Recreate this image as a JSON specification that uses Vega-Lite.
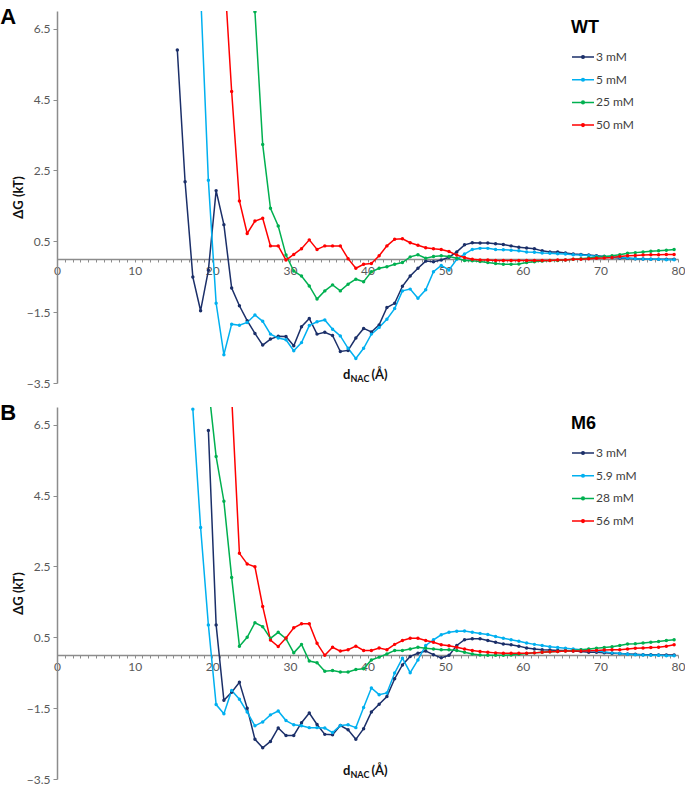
{
  "$schema": "https://vega.github.io/schema/vega-lite/v6.json",
  "padding": {"left": 0, "top": 5, "right": 0, "bottom": 0},
  "spacing": 12,
  "config": {
    "view": {"stroke": null},
    "font": "Lato",
    "axis": {"grid": false, "domainColor": "#8c8c8c", "domainWidth": 1.5, "tickColor": "#8c8c8c", "tickWidth": 1, "labelColor": "#595959", "labelFont": "Lato", "labelFontSize": 12},
    "legend": {"orient": "none", "legendX": 514, "legendY": 8, "titleFontSize": 18, "titleFont": "Liberation Sans", "titleFontWeight": "bold", "titleColor": "#000000", "titlePadding": 8, "labelFont": "Lato", "labelFontSize": 12, "labelColor": "#404040", "symbolType": "M-1,0H1M-0.12,0A0.12,0.12,0,1,0,0.12,0A0.12,0.12,0,1,0,-0.12,0", "symbolSize": 484, "symbolStrokeWidth": 1.5, "rowPadding": 4.7, "labelOffset": 1, "padding": 0},
    "title": {"anchor": "start", "frame": "bounds", "font": "Liberation Sans", "fontSize": 22, "fontWeight": "bold", "color": "#000000", "offset": -17.5, "dx": -12}
  },
  "datasets": {
    "A": [
      {"conc":"3 mM","d":15.5,"dG":5.90},{"conc":"3 mM","d":16.5,"dG":2.18},{"conc":"3 mM","d":17.5,"dG":-0.51},{"conc":"3 mM","d":18.5,"dG":-1.46},{"conc":"3 mM","d":19.5,"dG":-0.32},{"conc":"3 mM","d":20.5,"dG":1.93},{"conc":"3 mM","d":21.5,"dG":0.97},{"conc":"3 mM","d":22.5,"dG":-0.82},{"conc":"3 mM","d":23.5,"dG":-1.32},{"conc":"3 mM","d":24.5,"dG":-1.74},{"conc":"3 mM","d":25.5,"dG":-2.10},{"conc":"3 mM","d":26.5,"dG":-2.43},{"conc":"3 mM","d":27.5,"dG":-2.26},{"conc":"3 mM","d":28.5,"dG":-2.18},{"conc":"3 mM","d":29.5,"dG":-2.19},{"conc":"3 mM","d":30.5,"dG":-2.45},{"conc":"3 mM","d":31.5,"dG":-1.91},{"conc":"3 mM","d":32.5,"dG":-1.68},{"conc":"3 mM","d":33.5,"dG":-2.12},{"conc":"3 mM","d":34.5,"dG":-2.07},{"conc":"3 mM","d":35.5,"dG":-2.16},{"conc":"3 mM","d":36.5,"dG":-2.61},{"conc":"3 mM","d":37.5,"dG":-2.58},{"conc":"3 mM","d":38.5,"dG":-2.23},{"conc":"3 mM","d":39.5,"dG":-1.96},{"conc":"3 mM","d":40.5,"dG":-2.06},{"conc":"3 mM","d":41.5,"dG":-1.86},{"conc":"3 mM","d":42.5,"dG":-1.37},{"conc":"3 mM","d":43.5,"dG":-1.25},{"conc":"3 mM","d":44.5,"dG":-0.77},{"conc":"3 mM","d":45.5,"dG":-0.48},{"conc":"3 mM","d":46.5,"dG":-0.26},{"conc":"3 mM","d":47.5,"dG":-0.06},{"conc":"3 mM","d":48.5,"dG":-0.08},{"conc":"3 mM","d":49.5,"dG":-0.03},{"conc":"3 mM","d":50.5,"dG":0.05},{"conc":"3 mM","d":51.5,"dG":0.20},{"conc":"3 mM","d":52.5,"dG":0.40},{"conc":"3 mM","d":53.5,"dG":0.46},{"conc":"3 mM","d":54.5,"dG":0.45},{"conc":"3 mM","d":55.5,"dG":0.45},{"conc":"3 mM","d":56.5,"dG":0.43},{"conc":"3 mM","d":57.5,"dG":0.41},{"conc":"3 mM","d":58.5,"dG":0.37},{"conc":"3 mM","d":59.5,"dG":0.33},{"conc":"3 mM","d":60.5,"dG":0.31},{"conc":"3 mM","d":61.5,"dG":0.29},{"conc":"3 mM","d":62.5,"dG":0.23},{"conc":"3 mM","d":63.5,"dG":0.20},{"conc":"3 mM","d":64.5,"dG":0.20},{"conc":"3 mM","d":65.5,"dG":0.17},{"conc":"3 mM","d":66.5,"dG":0.14},{"conc":"3 mM","d":67.5,"dG":0.13},{"conc":"3 mM","d":68.5,"dG":0.11},{"conc":"3 mM","d":69.5,"dG":0.09},{"conc":"3 mM","d":70.5,"dG":0.07},{"conc":"3 mM","d":71.5,"dG":0.04},{"conc":"3 mM","d":72.5,"dG":0.03},{"conc":"3 mM","d":73.5,"dG":0.02},{"conc":"3 mM","d":74.5,"dG":0.01},{"conc":"3 mM","d":75.5,"dG":0.0},{"conc":"3 mM","d":76.5,"dG":-0.01},{"conc":"3 mM","d":77.5,"dG":-0.01},{"conc":"3 mM","d":78.5,"dG":-0.01},{"conc":"3 mM","d":79.5,"dG":-0.01},
      {"conc":"5 mM","d":18.5,"dG":7.53},{"conc":"5 mM","d":19.5,"dG":2.22},{"conc":"5 mM","d":20.5,"dG":-1.25},{"conc":"5 mM","d":21.5,"dG":-2.70},{"conc":"5 mM","d":22.5,"dG":-1.84},{"conc":"5 mM","d":23.5,"dG":-1.87},{"conc":"5 mM","d":24.5,"dG":-1.79},{"conc":"5 mM","d":25.5,"dG":-1.58},{"conc":"5 mM","d":26.5,"dG":-1.76},{"conc":"5 mM","d":27.5,"dG":-2.12},{"conc":"5 mM","d":28.5,"dG":-2.23},{"conc":"5 mM","d":29.5,"dG":-2.28},{"conc":"5 mM","d":30.5,"dG":-2.59},{"conc":"5 mM","d":31.5,"dG":-2.36},{"conc":"5 mM","d":32.5,"dG":-1.88},{"conc":"5 mM","d":33.5,"dG":-1.77},{"conc":"5 mM","d":34.5,"dG":-1.72},{"conc":"5 mM","d":35.5,"dG":-1.98},{"conc":"5 mM","d":36.5,"dG":-2.17},{"conc":"5 mM","d":37.5,"dG":-2.52},{"conc":"5 mM","d":38.5,"dG":-2.81},{"conc":"5 mM","d":39.5,"dG":-2.52},{"conc":"5 mM","d":40.5,"dG":-2.12},{"conc":"5 mM","d":41.5,"dG":-1.93},{"conc":"5 mM","d":42.5,"dG":-1.70},{"conc":"5 mM","d":43.5,"dG":-1.40},{"conc":"5 mM","d":44.5,"dG":-0.90},{"conc":"5 mM","d":45.5,"dG":-0.85},{"conc":"5 mM","d":46.5,"dG":-1.11},{"conc":"5 mM","d":47.5,"dG":-0.87},{"conc":"5 mM","d":48.5,"dG":-0.36},{"conc":"5 mM","d":49.5,"dG":-0.18},{"conc":"5 mM","d":50.5,"dG":-0.31},{"conc":"5 mM","d":51.5,"dG":-0.01},{"conc":"5 mM","d":52.5,"dG":0.14},{"conc":"5 mM","d":53.5,"dG":0.27},{"conc":"5 mM","d":54.5,"dG":0.30},{"conc":"5 mM","d":55.5,"dG":0.30},{"conc":"5 mM","d":56.5,"dG":0.27},{"conc":"5 mM","d":57.5,"dG":0.26},{"conc":"5 mM","d":58.5,"dG":0.25},{"conc":"5 mM","d":59.5,"dG":0.23},{"conc":"5 mM","d":60.5,"dG":0.20},{"conc":"5 mM","d":61.5,"dG":0.19},{"conc":"5 mM","d":62.5,"dG":0.17},{"conc":"5 mM","d":63.5,"dG":0.16},{"conc":"5 mM","d":64.5,"dG":0.15},{"conc":"5 mM","d":65.5,"dG":0.14},{"conc":"5 mM","d":66.5,"dG":0.12},{"conc":"5 mM","d":67.5,"dG":0.11},{"conc":"5 mM","d":68.5,"dG":0.10},{"conc":"5 mM","d":69.5,"dG":0.08},{"conc":"5 mM","d":70.5,"dG":0.07},{"conc":"5 mM","d":71.5,"dG":0.06},{"conc":"5 mM","d":72.5,"dG":0.04},{"conc":"5 mM","d":73.5,"dG":0.03},{"conc":"5 mM","d":74.5,"dG":0.01},{"conc":"5 mM","d":75.5,"dG":0.0},{"conc":"5 mM","d":76.5,"dG":-0.01},{"conc":"5 mM","d":77.5,"dG":-0.01},{"conc":"5 mM","d":78.5,"dG":-0.02},{"conc":"5 mM","d":79.5,"dG":-0.02},
      {"conc":"25 mM","d":25.5,"dG":6.98},{"conc":"25 mM","d":26.5,"dG":3.23},{"conc":"25 mM","d":27.5,"dG":1.43},{"conc":"25 mM","d":28.5,"dG":0.93},{"conc":"25 mM","d":29.5,"dG":0.11},{"conc":"25 mM","d":30.5,"dG":-0.34},{"conc":"25 mM","d":31.5,"dG":-0.48},{"conc":"25 mM","d":32.5,"dG":-0.76},{"conc":"25 mM","d":33.5,"dG":-1.13},{"conc":"25 mM","d":34.5,"dG":-0.90},{"conc":"25 mM","d":35.5,"dG":-0.73},{"conc":"25 mM","d":36.5,"dG":-0.90},{"conc":"25 mM","d":37.5,"dG":-0.71},{"conc":"25 mM","d":38.5,"dG":-0.57},{"conc":"25 mM","d":39.5,"dG":-0.64},{"conc":"25 mM","d":40.5,"dG":-0.36},{"conc":"25 mM","d":41.5,"dG":-0.26},{"conc":"25 mM","d":42.5,"dG":-0.22},{"conc":"25 mM","d":43.5,"dG":-0.15},{"conc":"25 mM","d":44.5,"dG":-0.10},{"conc":"25 mM","d":45.5,"dG":0.06},{"conc":"25 mM","d":46.5,"dG":0.12},{"conc":"25 mM","d":47.5,"dG":0.02},{"conc":"25 mM","d":48.5,"dG":0.07},{"conc":"25 mM","d":49.5,"dG":0.09},{"conc":"25 mM","d":50.5,"dG":0.07},{"conc":"25 mM","d":51.5,"dG":0.02},{"conc":"25 mM","d":52.5,"dG":-0.04},{"conc":"25 mM","d":53.5,"dG":-0.05},{"conc":"25 mM","d":54.5,"dG":-0.07},{"conc":"25 mM","d":55.5,"dG":-0.10},{"conc":"25 mM","d":56.5,"dG":-0.13},{"conc":"25 mM","d":57.5,"dG":-0.15},{"conc":"25 mM","d":58.5,"dG":-0.15},{"conc":"25 mM","d":59.5,"dG":-0.14},{"conc":"25 mM","d":60.5,"dG":-0.10},{"conc":"25 mM","d":61.5,"dG":-0.08},{"conc":"25 mM","d":62.5,"dG":-0.06},{"conc":"25 mM","d":63.5,"dG":-0.04},{"conc":"25 mM","d":64.5,"dG":-0.04},{"conc":"25 mM","d":65.5,"dG":-0.03},{"conc":"25 mM","d":66.5,"dG":-0.01},{"conc":"25 mM","d":67.5,"dG":0.01},{"conc":"25 mM","d":68.5,"dG":0.03},{"conc":"25 mM","d":69.5,"dG":0.05},{"conc":"25 mM","d":70.5,"dG":0.07},{"conc":"25 mM","d":71.5,"dG":0.09},{"conc":"25 mM","d":72.5,"dG":0.12},{"conc":"25 mM","d":73.5,"dG":0.16},{"conc":"25 mM","d":74.5,"dG":0.18},{"conc":"25 mM","d":75.5,"dG":0.20},{"conc":"25 mM","d":76.5,"dG":0.22},{"conc":"25 mM","d":77.5,"dG":0.23},{"conc":"25 mM","d":78.5,"dG":0.25},{"conc":"25 mM","d":79.5,"dG":0.27},
      {"conc":"50 mM","d":21.5,"dG":8.3},{"conc":"50 mM","d":22.5,"dG":4.73},{"conc":"50 mM","d":23.5,"dG":1.64},{"conc":"50 mM","d":24.5,"dG":0.72},{"conc":"50 mM","d":25.5,"dG":1.07},{"conc":"50 mM","d":26.5,"dG":1.15},{"conc":"50 mM","d":27.5,"dG":0.37},{"conc":"50 mM","d":28.5,"dG":0.37},{"conc":"50 mM","d":29.5,"dG":-0.03},{"conc":"50 mM","d":30.5,"dG":0.13},{"conc":"50 mM","d":31.5,"dG":0.29},{"conc":"50 mM","d":32.5,"dG":0.54},{"conc":"50 mM","d":33.5,"dG":0.27},{"conc":"50 mM","d":34.5,"dG":0.37},{"conc":"50 mM","d":35.5,"dG":0.37},{"conc":"50 mM","d":36.5,"dG":0.37},{"conc":"50 mM","d":37.5,"dG":0.01},{"conc":"50 mM","d":38.5,"dG":-0.26},{"conc":"50 mM","d":39.5,"dG":-0.15},{"conc":"50 mM","d":40.5,"dG":-0.13},{"conc":"50 mM","d":41.5,"dG":0.09},{"conc":"50 mM","d":42.5,"dG":0.37},{"conc":"50 mM","d":43.5,"dG":0.56},{"conc":"50 mM","d":44.5,"dG":0.57},{"conc":"50 mM","d":45.5,"dG":0.46},{"conc":"50 mM","d":46.5,"dG":0.39},{"conc":"50 mM","d":47.5,"dG":0.32},{"conc":"50 mM","d":48.5,"dG":0.29},{"conc":"50 mM","d":49.5,"dG":0.27},{"conc":"50 mM","d":50.5,"dG":0.21},{"conc":"50 mM","d":51.5,"dG":0.11},{"conc":"50 mM","d":52.5,"dG":0.04},{"conc":"50 mM","d":53.5,"dG":-0.01},{"conc":"50 mM","d":54.5,"dG":-0.03},{"conc":"50 mM","d":55.5,"dG":-0.03},{"conc":"50 mM","d":56.5,"dG":-0.04},{"conc":"50 mM","d":57.5,"dG":-0.04},{"conc":"50 mM","d":58.5,"dG":-0.04},{"conc":"50 mM","d":59.5,"dG":-0.04},{"conc":"50 mM","d":60.5,"dG":-0.04},{"conc":"50 mM","d":61.5,"dG":-0.04},{"conc":"50 mM","d":62.5,"dG":-0.04},{"conc":"50 mM","d":63.5,"dG":-0.04},{"conc":"50 mM","d":64.5,"dG":-0.03},{"conc":"50 mM","d":65.5,"dG":-0.03},{"conc":"50 mM","d":66.5,"dG":-0.01},{"conc":"50 mM","d":67.5,"dG":-0.01},{"conc":"50 mM","d":68.5,"dG":0.01},{"conc":"50 mM","d":69.5,"dG":0.02},{"conc":"50 mM","d":70.5,"dG":0.03},{"conc":"50 mM","d":71.5,"dG":0.04},{"conc":"50 mM","d":72.5,"dG":0.07},{"conc":"50 mM","d":73.5,"dG":0.09},{"conc":"50 mM","d":74.5,"dG":0.10},{"conc":"50 mM","d":75.5,"dG":0.11},{"conc":"50 mM","d":76.5,"dG":0.12},{"conc":"50 mM","d":77.5,"dG":0.12},{"conc":"50 mM","d":78.5,"dG":0.13},{"conc":"50 mM","d":79.5,"dG":0.13}
    ],
    "B": [
      {"conc":"3 mM","d":19.5,"dG":6.34},{"conc":"3 mM","d":20.5,"dG":0.85},{"conc":"3 mM","d":21.5,"dG":-1.28},{"conc":"3 mM","d":22.5,"dG":-1.05},{"conc":"3 mM","d":23.5,"dG":-0.77},{"conc":"3 mM","d":24.5,"dG":-1.50},{"conc":"3 mM","d":25.5,"dG":-2.38},{"conc":"3 mM","d":26.5,"dG":-2.62},{"conc":"3 mM","d":27.5,"dG":-2.44},{"conc":"3 mM","d":28.5,"dG":-2.06},{"conc":"3 mM","d":29.5,"dG":-2.27},{"conc":"3 mM","d":30.5,"dG":-2.27},{"conc":"3 mM","d":31.5,"dG":-1.91},{"conc":"3 mM","d":32.5,"dG":-1.64},{"conc":"3 mM","d":33.5,"dG":-1.96},{"conc":"3 mM","d":34.5,"dG":-2.24},{"conc":"3 mM","d":35.5,"dG":-2.25},{"conc":"3 mM","d":36.5,"dG":-1.99},{"conc":"3 mM","d":37.5,"dG":-2.11},{"conc":"3 mM","d":38.5,"dG":-2.38},{"conc":"3 mM","d":39.5,"dG":-2.08},{"conc":"3 mM","d":40.5,"dG":-1.61},{"conc":"3 mM","d":41.5,"dG":-1.39},{"conc":"3 mM","d":42.5,"dG":-1.17},{"conc":"3 mM","d":43.5,"dG":-0.67},{"conc":"3 mM","d":44.5,"dG":-0.28},{"conc":"3 mM","d":45.5,"dG":-0.04},{"conc":"3 mM","d":46.5,"dG":0.05},{"conc":"3 mM","d":47.5,"dG":0.11},{"conc":"3 mM","d":48.5,"dG":0.01},{"conc":"3 mM","d":49.5,"dG":-0.08},{"conc":"3 mM","d":50.5,"dG":-0.01},{"conc":"3 mM","d":51.5,"dG":0.27},{"conc":"3 mM","d":52.5,"dG":0.43},{"conc":"3 mM","d":53.5,"dG":0.46},{"conc":"3 mM","d":54.5,"dG":0.46},{"conc":"3 mM","d":55.5,"dG":0.41},{"conc":"3 mM","d":56.5,"dG":0.36},{"conc":"3 mM","d":57.5,"dG":0.31},{"conc":"3 mM","d":58.5,"dG":0.29},{"conc":"3 mM","d":59.5,"dG":0.25},{"conc":"3 mM","d":60.5,"dG":0.20},{"conc":"3 mM","d":61.5,"dG":0.17},{"conc":"3 mM","d":62.5,"dG":0.15},{"conc":"3 mM","d":63.5,"dG":0.14},{"conc":"3 mM","d":64.5,"dG":0.13},{"conc":"3 mM","d":65.5,"dG":0.13},{"conc":"3 mM","d":66.5,"dG":0.11},{"conc":"3 mM","d":67.5,"dG":0.10},{"conc":"3 mM","d":68.5,"dG":0.08},{"conc":"3 mM","d":69.5,"dG":0.08},{"conc":"3 mM","d":70.5,"dG":0.06},{"conc":"3 mM","d":71.5,"dG":0.05},{"conc":"3 mM","d":72.5,"dG":0.04},{"conc":"3 mM","d":73.5,"dG":0.03},{"conc":"3 mM","d":74.5,"dG":0.02},{"conc":"3 mM","d":75.5,"dG":0.01},{"conc":"3 mM","d":76.5,"dG":0.01},{"conc":"3 mM","d":77.5,"dG":0.0},{"conc":"3 mM","d":78.5,"dG":0.0},{"conc":"3 mM","d":79.5,"dG":0.0},
      {"conc":"5.9 mM","d":17.5,"dG":6.94},{"conc":"5.9 mM","d":18.5,"dG":3.60},{"conc":"5.9 mM","d":19.5,"dG":0.85},{"conc":"5.9 mM","d":20.5,"dG":-1.40},{"conc":"5.9 mM","d":21.5,"dG":-1.66},{"conc":"5.9 mM","d":22.5,"dG":-1.00},{"conc":"5.9 mM","d":23.5,"dG":-1.25},{"conc":"5.9 mM","d":24.5,"dG":-1.61},{"conc":"5.9 mM","d":25.5,"dG":-2.00},{"conc":"5.9 mM","d":26.5,"dG":-1.89},{"conc":"5.9 mM","d":27.5,"dG":-1.69},{"conc":"5.9 mM","d":28.5,"dG":-1.58},{"conc":"5.9 mM","d":29.5,"dG":-1.85},{"conc":"5.9 mM","d":30.5,"dG":-1.97},{"conc":"5.9 mM","d":31.5,"dG":-2.00},{"conc":"5.9 mM","d":32.5,"dG":-2.05},{"conc":"5.9 mM","d":33.5,"dG":-2.05},{"conc":"5.9 mM","d":34.5,"dG":-2.06},{"conc":"5.9 mM","d":35.5,"dG":-2.19},{"conc":"5.9 mM","d":36.5,"dG":-1.99},{"conc":"5.9 mM","d":37.5,"dG":-1.97},{"conc":"5.9 mM","d":38.5,"dG":-2.05},{"conc":"5.9 mM","d":39.5,"dG":-1.48},{"conc":"5.9 mM","d":40.5,"dG":-0.93},{"conc":"5.9 mM","d":41.5,"dG":-1.12},{"conc":"5.9 mM","d":42.5,"dG":-1.07},{"conc":"5.9 mM","d":43.5,"dG":-0.51},{"conc":"5.9 mM","d":44.5,"dG":-0.09},{"conc":"5.9 mM","d":45.5,"dG":-0.50},{"conc":"5.9 mM","d":46.5,"dG":-0.14},{"conc":"5.9 mM","d":47.5,"dG":0.27},{"conc":"5.9 mM","d":48.5,"dG":0.43},{"conc":"5.9 mM","d":49.5,"dG":0.57},{"conc":"5.9 mM","d":50.5,"dG":0.64},{"conc":"5.9 mM","d":51.5,"dG":0.67},{"conc":"5.9 mM","d":52.5,"dG":0.68},{"conc":"5.9 mM","d":53.5,"dG":0.64},{"conc":"5.9 mM","d":54.5,"dG":0.61},{"conc":"5.9 mM","d":55.5,"dG":0.58},{"conc":"5.9 mM","d":56.5,"dG":0.52},{"conc":"5.9 mM","d":57.5,"dG":0.47},{"conc":"5.9 mM","d":58.5,"dG":0.43},{"conc":"5.9 mM","d":59.5,"dG":0.39},{"conc":"5.9 mM","d":60.5,"dG":0.34},{"conc":"5.9 mM","d":61.5,"dG":0.30},{"conc":"5.9 mM","d":62.5,"dG":0.27},{"conc":"5.9 mM","d":63.5,"dG":0.23},{"conc":"5.9 mM","d":64.5,"dG":0.21},{"conc":"5.9 mM","d":65.5,"dG":0.19},{"conc":"5.9 mM","d":66.5,"dG":0.17},{"conc":"5.9 mM","d":67.5,"dG":0.15},{"conc":"5.9 mM","d":68.5,"dG":0.13},{"conc":"5.9 mM","d":69.5,"dG":0.11},{"conc":"5.9 mM","d":70.5,"dG":0.09},{"conc":"5.9 mM","d":71.5,"dG":0.06},{"conc":"5.9 mM","d":72.5,"dG":0.04},{"conc":"5.9 mM","d":73.5,"dG":0.02},{"conc":"5.9 mM","d":74.5,"dG":0.01},{"conc":"5.9 mM","d":75.5,"dG":0.0},{"conc":"5.9 mM","d":76.5,"dG":-0.01},{"conc":"5.9 mM","d":77.5,"dG":-0.01},{"conc":"5.9 mM","d":78.5,"dG":-0.02},{"conc":"5.9 mM","d":79.5,"dG":-0.02},
      {"conc":"28 mM","d":19.5,"dG":7.6},{"conc":"28 mM","d":20.5,"dG":5.60},{"conc":"28 mM","d":21.5,"dG":4.34},{"conc":"28 mM","d":22.5,"dG":2.19},{"conc":"28 mM","d":23.5,"dG":0.25},{"conc":"28 mM","d":24.5,"dG":0.50},{"conc":"28 mM","d":25.5,"dG":0.91},{"conc":"28 mM","d":26.5,"dG":0.80},{"conc":"28 mM","d":27.5,"dG":0.47},{"conc":"28 mM","d":28.5,"dG":0.64},{"conc":"28 mM","d":29.5,"dG":0.46},{"conc":"28 mM","d":30.5,"dG":0.06},{"conc":"28 mM","d":31.5,"dG":0.30},{"conc":"28 mM","d":32.5,"dG":-0.17},{"conc":"28 mM","d":33.5,"dG":-0.22},{"conc":"28 mM","d":34.5,"dG":-0.46},{"conc":"28 mM","d":35.5,"dG":-0.44},{"conc":"28 mM","d":36.5,"dG":-0.48},{"conc":"28 mM","d":37.5,"dG":-0.48},{"conc":"28 mM","d":38.5,"dG":-0.41},{"conc":"28 mM","d":39.5,"dG":-0.39},{"conc":"28 mM","d":40.5,"dG":-0.14},{"conc":"28 mM","d":41.5,"dG":-0.06},{"conc":"28 mM","d":42.5,"dG":0.03},{"conc":"28 mM","d":43.5,"dG":0.13},{"conc":"28 mM","d":44.5,"dG":0.13},{"conc":"28 mM","d":45.5,"dG":0.17},{"conc":"28 mM","d":46.5,"dG":0.22},{"conc":"28 mM","d":47.5,"dG":0.19},{"conc":"28 mM","d":48.5,"dG":0.17},{"conc":"28 mM","d":49.5,"dG":0.15},{"conc":"28 mM","d":50.5,"dG":0.15},{"conc":"28 mM","d":51.5,"dG":0.13},{"conc":"28 mM","d":52.5,"dG":0.08},{"conc":"28 mM","d":53.5,"dG":0.03},{"conc":"28 mM","d":54.5,"dG":0.0},{"conc":"28 mM","d":55.5,"dG":-0.01},{"conc":"28 mM","d":56.5,"dG":-0.01},{"conc":"28 mM","d":57.5,"dG":-0.01},{"conc":"28 mM","d":58.5,"dG":0.0},{"conc":"28 mM","d":59.5,"dG":0.02},{"conc":"28 mM","d":60.5,"dG":0.04},{"conc":"28 mM","d":61.5,"dG":0.06},{"conc":"28 mM","d":62.5,"dG":0.08},{"conc":"28 mM","d":63.5,"dG":0.09},{"conc":"28 mM","d":64.5,"dG":0.10},{"conc":"28 mM","d":65.5,"dG":0.11},{"conc":"28 mM","d":66.5,"dG":0.13},{"conc":"28 mM","d":67.5,"dG":0.15},{"conc":"28 mM","d":68.5,"dG":0.17},{"conc":"28 mM","d":69.5,"dG":0.19},{"conc":"28 mM","d":70.5,"dG":0.21},{"conc":"28 mM","d":71.5,"dG":0.23},{"conc":"28 mM","d":72.5,"dG":0.27},{"conc":"28 mM","d":73.5,"dG":0.31},{"conc":"28 mM","d":74.5,"dG":0.32},{"conc":"28 mM","d":75.5,"dG":0.34},{"conc":"28 mM","d":76.5,"dG":0.36},{"conc":"28 mM","d":77.5,"dG":0.38},{"conc":"28 mM","d":78.5,"dG":0.41},{"conc":"28 mM","d":79.5,"dG":0.43},
      {"conc":"56 mM","d":22.5,"dG":7.3},{"conc":"56 mM","d":23.5,"dG":2.87},{"conc":"56 mM","d":24.5,"dG":2.57},{"conc":"56 mM","d":25.5,"dG":2.49},{"conc":"56 mM","d":26.5,"dG":1.37},{"conc":"56 mM","d":27.5,"dG":0.42},{"conc":"56 mM","d":28.5,"dG":0.24},{"conc":"56 mM","d":29.5,"dG":0.48},{"conc":"56 mM","d":30.5,"dG":0.77},{"conc":"56 mM","d":31.5,"dG":0.88},{"conc":"56 mM","d":32.5,"dG":0.88},{"conc":"56 mM","d":33.5,"dG":0.33},{"conc":"56 mM","d":34.5,"dG":-0.01},{"conc":"56 mM","d":35.5,"dG":0.22},{"conc":"56 mM","d":36.5,"dG":0.11},{"conc":"56 mM","d":37.5,"dG":0.15},{"conc":"56 mM","d":38.5,"dG":0.25},{"conc":"56 mM","d":39.5,"dG":0.13},{"conc":"56 mM","d":40.5,"dG":0.13},{"conc":"56 mM","d":41.5,"dG":0.20},{"conc":"56 mM","d":42.5,"dG":0.15},{"conc":"56 mM","d":43.5,"dG":0.30},{"conc":"56 mM","d":44.5,"dG":0.41},{"conc":"56 mM","d":45.5,"dG":0.47},{"conc":"56 mM","d":46.5,"dG":0.47},{"conc":"56 mM","d":47.5,"dG":0.41},{"conc":"56 mM","d":48.5,"dG":0.36},{"conc":"56 mM","d":49.5,"dG":0.29},{"conc":"56 mM","d":50.5,"dG":0.26},{"conc":"56 mM","d":51.5,"dG":0.22},{"conc":"56 mM","d":52.5,"dG":0.17},{"conc":"56 mM","d":53.5,"dG":0.13},{"conc":"56 mM","d":54.5,"dG":0.10},{"conc":"56 mM","d":55.5,"dG":0.08},{"conc":"56 mM","d":56.5,"dG":0.06},{"conc":"56 mM","d":57.5,"dG":0.05},{"conc":"56 mM","d":58.5,"dG":0.05},{"conc":"56 mM","d":59.5,"dG":0.05},{"conc":"56 mM","d":60.5,"dG":0.05},{"conc":"56 mM","d":61.5,"dG":0.06},{"conc":"56 mM","d":62.5,"dG":0.08},{"conc":"56 mM","d":63.5,"dG":0.09},{"conc":"56 mM","d":64.5,"dG":0.10},{"conc":"56 mM","d":65.5,"dG":0.11},{"conc":"56 mM","d":66.5,"dG":0.11},{"conc":"56 mM","d":67.5,"dG":0.11},{"conc":"56 mM","d":68.5,"dG":0.12},{"conc":"56 mM","d":69.5,"dG":0.13},{"conc":"56 mM","d":70.5,"dG":0.14},{"conc":"56 mM","d":71.5,"dG":0.15},{"conc":"56 mM","d":72.5,"dG":0.15},{"conc":"56 mM","d":73.5,"dG":0.17},{"conc":"56 mM","d":74.5,"dG":0.19},{"conc":"56 mM","d":75.5,"dG":0.20},{"conc":"56 mM","d":76.5,"dG":0.21},{"conc":"56 mM","d":77.5,"dG":0.22},{"conc":"56 mM","d":78.5,"dG":0.25},{"conc":"56 mM","d":79.5,"dG":0.29}
    ]
  },
  "resolve": {"scale": {"color": "independent"}, "legend": {"color": "independent"}},
  "vconcat": [
    {
      "width": 621, "height": 372,
      "title": {"text": "A"},
      "layer": [
        {
          "data": {"name": "A"},
          "encoding": {
            "x": {"field": "d", "type": "quantitative", "scale": {"domain": [0, 80], "nice": false, "zero": false},
                  "axis": {"title": null, "offset": -124, "tickCount": 80, "labelExpr": "datum.value % 10 === 0 ? datum.label : ''", "labelOverlap": false, "labelFlush": false, "tickSize": 3, "labelPadding": 3}},
            "y": {"field": "dG", "type": "quantitative", "scale": {"domain": [-3.5, 7], "nice": false, "zero": false},
                  "axis": {"values": [-3.5, -1.5, 0.5, 2.5, 4.5, 6.5], "format": ".1f", "title": "ΔG (kT)", "titleFont": "Lato", "titleFontWeight": "bold", "titleFontSize": 13, "titleColor": "#111111", "titlePadding": 1, "tickSize": 4, "labelPadding": 3}},
            "color": {"field": "conc", "type": "nominal", "scale": {"domain": ["3 mM", "5 mM", "25 mM", "50 mM"], "range": ["#1B2F69", "#00B0F0", "#00B050", "#FF0000"]}, "legend": {"title": "WT"}}
          },
          "layer": [
            {"mark": {"type": "line", "clip": true, "strokeWidth": 1.5}},
            {"mark": {"type": "point", "filled": true, "clip": true, "size": 12, "opacity": 1}}
          ]
        },
        {"data": {"values": [{}]}, "mark": {"type": "text", "align": "right", "baseline": "alphabetic", "fontSize": 13, "fontWeight": "bold", "color": "#111111"},
         "encoding": {"x": {"datum": 37.8}, "y": {"datum": -3.39}, "text": {"value": "d"}}},
        {"data": {"values": [{}]}, "mark": {"type": "text", "align": "left", "baseline": "alphabetic", "fontSize": 9, "fontWeight": "bold", "dy": 3, "color": "#111111"},
         "encoding": {"x": {"datum": 37.8}, "y": {"datum": -3.39}, "text": {"value": "NAC"}}},
        {"data": {"values": [{}]}, "mark": {"type": "text", "align": "left", "baseline": "alphabetic", "fontSize": 13, "fontWeight": "bold", "color": "#111111"},
         "encoding": {"x": {"datum": 40.5}, "y": {"datum": -3.39}, "text": {"value": "(Å)"}}}
      ]
    },
    {
      "width": 621, "height": 372,
      "title": {"text": "B"},
      "layer": [
        {
          "data": {"name": "B"},
          "encoding": {
            "x": {"field": "d", "type": "quantitative", "scale": {"domain": [0, 80], "nice": false, "zero": false},
                  "axis": {"title": null, "offset": -124, "tickCount": 80, "labelExpr": "datum.value % 10 === 0 ? datum.label : ''", "labelOverlap": false, "labelFlush": false, "tickSize": 3, "labelPadding": 3}},
            "y": {"field": "dG", "type": "quantitative", "scale": {"domain": [-3.5, 7], "nice": false, "zero": false},
                  "axis": {"values": [-3.5, -1.5, 0.5, 2.5, 4.5, 6.5], "format": ".1f", "title": "ΔG (kT)", "titleFont": "Lato", "titleFontWeight": "bold", "titleFontSize": 13, "titleColor": "#111111", "titlePadding": 1, "tickSize": 4, "labelPadding": 3}},
            "color": {"field": "conc", "type": "nominal", "scale": {"domain": ["3 mM", "5.9 mM", "28 mM", "56 mM"], "range": ["#1B2F69", "#00B0F0", "#00B050", "#FF0000"]}, "legend": {"title": "M6"}}
          },
          "layer": [
            {"mark": {"type": "line", "clip": true, "strokeWidth": 1.5}},
            {"mark": {"type": "point", "filled": true, "clip": true, "size": 12, "opacity": 1}}
          ]
        },
        {"data": {"values": [{}]}, "mark": {"type": "text", "align": "right", "baseline": "alphabetic", "fontSize": 13, "fontWeight": "bold", "color": "#111111"},
         "encoding": {"x": {"datum": 37.8}, "y": {"datum": -3.39}, "text": {"value": "d"}}},
        {"data": {"values": [{}]}, "mark": {"type": "text", "align": "left", "baseline": "alphabetic", "fontSize": 9, "fontWeight": "bold", "dy": 3, "color": "#111111"},
         "encoding": {"x": {"datum": 37.8}, "y": {"datum": -3.39}, "text": {"value": "NAC"}}},
        {"data": {"values": [{}]}, "mark": {"type": "text", "align": "left", "baseline": "alphabetic", "fontSize": 13, "fontWeight": "bold", "color": "#111111"},
         "encoding": {"x": {"datum": 40.5}, "y": {"datum": -3.39}, "text": {"value": "(Å)"}}}
      ]
    }
  ]
}
